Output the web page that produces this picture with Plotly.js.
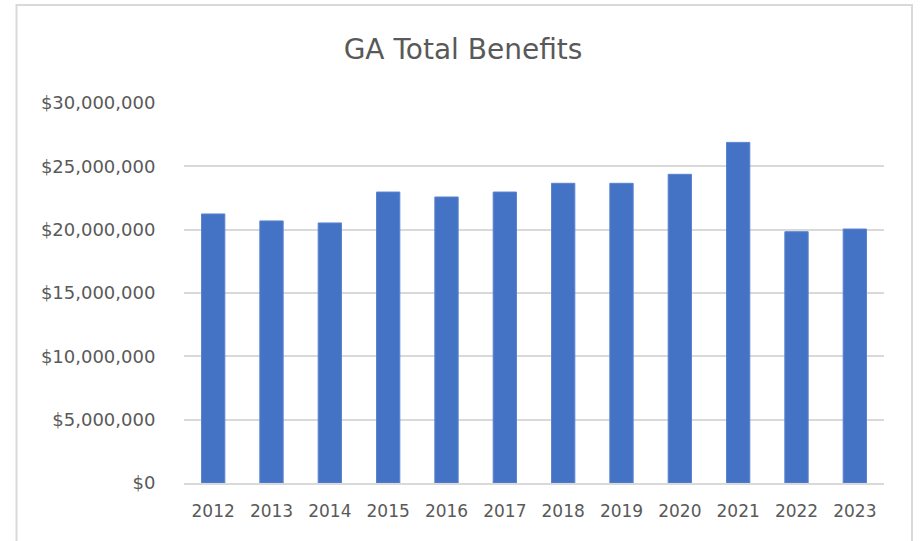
<!DOCTYPE html>
<html>
<head>
<meta charset="utf-8">
<script src="https://cdn.plot.ly/plotly-3.0.1.min.js"></script>
<style>html,body{margin:0;padding:0;background:#fff;}#chart{width:920px;height:541px;}</style>
</head>
<body>
<div id="chart"></div>
<script>
const years = ['2012','2013','2014','2015','2016','2017','2018','2019','2020','2021','2022','2023'];
const totalBenefits = [21240000, 20690000, 20530000, 22970000, 22580000, 22970000, 23660000, 23660000, 24370000, 26890000, 19840000, 20050000];
const yTickValues = [0, 5000000, 10000000, 15000000, 20000000, 25000000, 30000000];
const yTickLabels = ['$0','$5,000,000','$10,000,000','$15,000,000','$20,000,000','$25,000,000','$30,000,000'];

const textColor = '#595959';
const font = 'DejaVu Sans, sans-serif';

const trace = {
  type: 'bar',
  x: years,
  y: totalBenefits,
  marker: {color: '#4472c4', line: {color: '#5b84cf', width: 1}},
  hoverinfo: 'x+y'
};

// plot area: x 184..884, y 103..483 in pixels
const L = 184, R = 884, T = 103, B = 483;
const px = v => (v - L) / (R - L);
const py = v => (B - v) / (B - T);

const layout = {
  width: 920, height: 541,
  margin: {l: L, r: 920 - R, t: T, b: 541 - B, pad: 0},
  paper_bgcolor: '#ffffff',
  plot_bgcolor: '#ffffff',
  showlegend: false,
  bargap: 0.6,
  title: {
    text: 'GA Total Benefits',
    font: {family: font, size: 28, color: textColor},
    xref: 'container', x: 463 / 920, xanchor: 'center',
    yref: 'container', y: 1 - 49 / 541, yanchor: 'middle'
  },
  xaxis: {
    type: 'category',
    tickfont: {family: font, size: 17, color: textColor},
    ticks: 'outside', ticklen: 12, tickcolor: 'rgba(0,0,0,0)',
    showgrid: false, zeroline: false,
    showline: true, linecolor: '#d9d9d9', linewidth: 2
  },
  yaxis: {
    range: [0, 30000000],
    tickvals: yTickValues,
    ticktext: yTickLabels,
    tickfont: {family: font, size: 18, color: textColor},
    ticks: 'outside', ticklen: 24, tickcolor: 'rgba(0,0,0,0)',
    showgrid: true, gridcolor: '#d9d9d9', gridwidth: 2,
    zeroline: false, showline: false
  },
  shapes: [{
    type: 'rect', xref: 'paper', yref: 'paper',
    x0: px(16.5), x1: px(912), y0: py(560), y1: py(5),
    line: {color: '#d9d9d9', width: 2}, fillcolor: 'rgba(0,0,0,0)', layer: 'below'
  }]
};

Plotly.newPlot('chart', [trace], layout, {displayModeBar: false, staticPlot: true});
</script>
</body>
</html>
